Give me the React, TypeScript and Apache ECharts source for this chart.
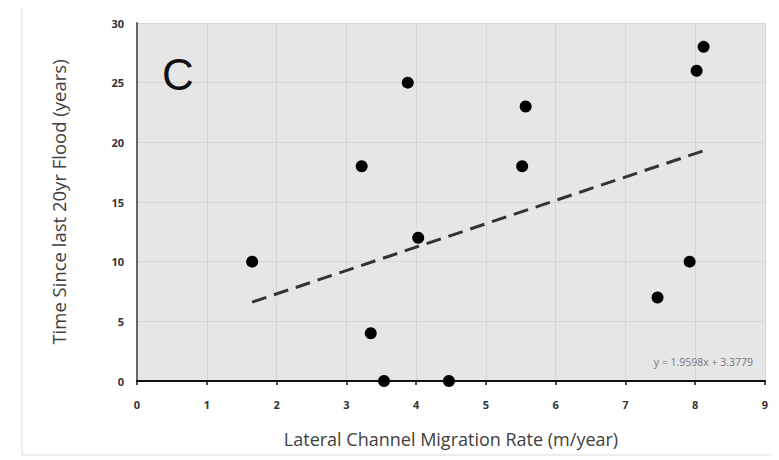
import React, { useEffect, useRef } from "react";
import * as echarts from "echarts";

const migrationRate = [1.65, 3.22, 3.35, 3.54, 3.88, 4.03, 4.47, 5.52, 5.57, 7.46, 7.92, 8.02, 8.12];
const timeSinceFlood = [10, 18, 4, 0, 25, 12, 0, 18, 23, 7, 10, 26, 28];
const slope = 1.9598;
const intercept = 3.3779;
const xTicks = [0, 1, 2, 3, 4, 5, 6, 7, 8, 9];
const yTicks = [0, 5, 10, 15, 20, 25, 30];
const equationLabel = "y = 1.9598x + 3.3779";

export default function App() {
  const ref = useRef<HTMLDivElement>(null);
  useEffect(() => {
    if (!ref.current) return;
    const chart = echarts.init(ref.current, undefined, { renderer: "svg" });
    const pts = migrationRate.map((x, i) => [x, timeSinceFlood[i]]);
    const xmin = Math.min(...migrationRate);
    const xmax = Math.max(...migrationRate);
    const trend = [
      [xmin, slope * xmin + intercept],
      [xmax, slope * xmax + intercept],
    ];
    const font = "'Open Sans', 'Noto Sans', sans-serif";
    chart.setOption({
      animation: false,
      backgroundColor: "#ffffff",
      grid: {
        left: 129,
        right: 14,
        top: 15,
        bottom: 79,
        show: true,
        backgroundColor: "#e6e6e6",
        borderWidth: 0,
      },
      graphic: [
        {
          type: "rect",
          shape: { x: 14, y: -2, width: 800, height: 449 },
          style: { fill: "none", stroke: "#e8e8e8", lineWidth: 1.5 },
          silent: true,
          z: -1,
        },
        {
          type: "line",
          shape: { x1: 14, y1: -2, x2: 771, y2: -2 },
          style: { stroke: "#eeeeee", lineWidth: 3 },
          silent: true,
          z: -1,
        },
        {
          type: "text",
          left: 154,
          top: 44,
          style: { text: "C", fontSize: 44, fontFamily: "'Liberation Sans', Arial, sans-serif", fill: "#111" },
          z: 10,
        },
        {
          type: "text",
          right: 26,
          top: 348,
          style: { text: equationLabel, fontSize: 10.5, fontFamily: font, fill: "#777" },
          z: 10,
        },
      ],
      xAxis: {
        type: "value",
        min: xTicks[0],
        max: xTicks[xTicks.length - 1],
        interval: 1,
        name: "Lateral Channel Migration Rate (m/year)",
        nameLocation: "middle",
        nameGap: 49,
        nameTextStyle: { fontSize: 18, color: "#404040", fontFamily: font },
        axisLine: { show: true, lineStyle: { color: "#111", width: 2 } },
        axisTick: { show: true, length: 4, inside: false, lineStyle: { color: "#111", width: 1.5 } },
        axisLabel: { fontSize: 11, fontWeight: "bold", color: "#333", margin: 18, fontFamily: font },
        splitLine: { show: true, lineStyle: { color: "#d6d6d6", width: 1 } },
      },
      yAxis: {
        type: "value",
        min: yTicks[0],
        max: yTicks[yTicks.length - 1],
        interval: 5,
        name: "Time Since last 20yr Flood (years)",
        nameLocation: "middle",
        nameGap: 69,
        nameTextStyle: { fontSize: 18.5, color: "#404040", fontFamily: font },
        axisLine: { show: true, onZero: false, lineStyle: { color: "#666", width: 2 } },
        axisTick: { show: false },
        axisLabel: { fontSize: 11, fontWeight: "bold", color: "#333", margin: 13, fontFamily: font },
        splitLine: { show: true, lineStyle: { color: "#d6d6d6", width: 1 } },
      },
      series: [
        {
          type: "line",
          data: trend,
          showSymbol: false,
          symbol: "none",
          lineStyle: { color: "#333", width: 3, type: [15, 8] },
          z: 2,
        },
        {
          type: "scatter",
          data: pts,
          symbol: "circle",
          symbolSize: 12,
          itemStyle: { color: "#000", opacity: 1 },
          z: 3,
        },
      ],
    });
    return () => chart.dispose();
  }, []);
  return <div ref={ref} style={{ width: 771, height: 452 }} />;
}
